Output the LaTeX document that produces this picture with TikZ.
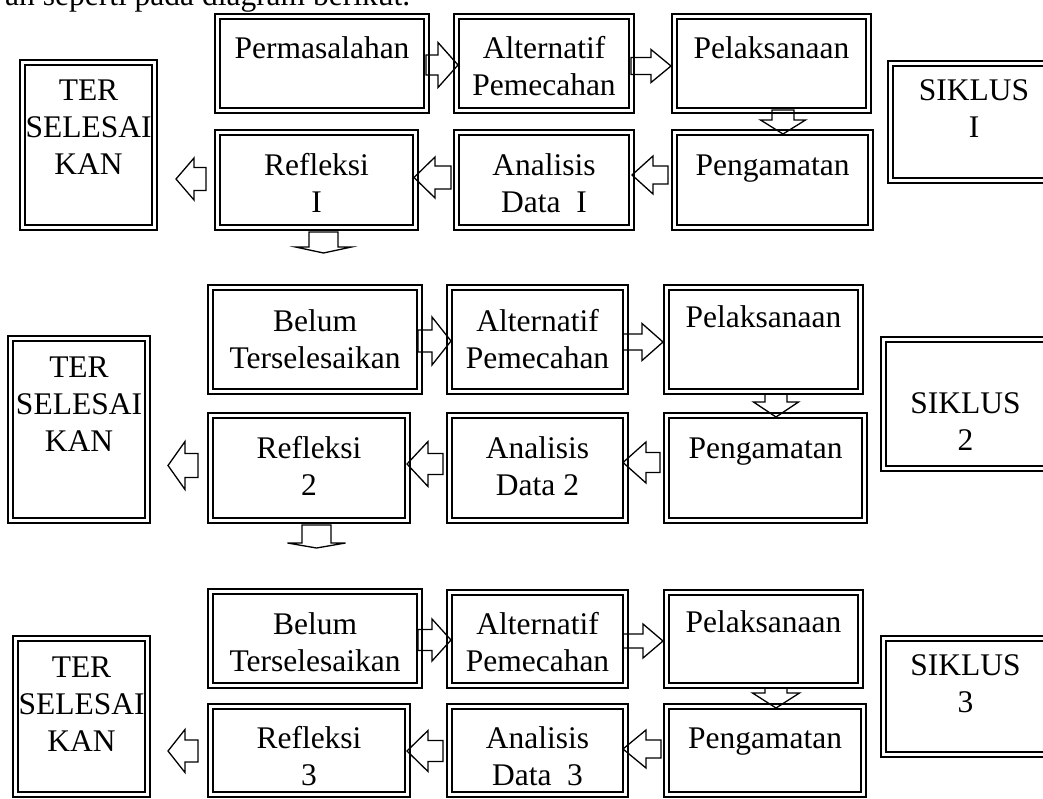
\documentclass[tikz,border=0pt]{standalone}
\usepackage{fontspec}
\setmainfont{Liberation Serif}
\usetikzlibrary{calc}

\pgfdeclarelayer{background}
\pgfsetlayers{background,main}

\tikzset{
  dframe/.style={draw, line width=1.6pt, inner sep=0pt, outer sep=0pt,
    path picture={\draw[line width=2.6pt]
      ([shift={(5pt,-5pt)}]path picture bounding box.north west) rectangle
      ([shift={(-5pt,5pt)}]path picture bounding box.south east);}},
  boxtext/.style={font=\fontsize{31.5}{37}\selectfont, align=center, inner sep=0pt, anchor=north},
  blockarrow/.style={draw, fill=white, line width=1.3pt, line join=miter},
}

% framed box: name, x1, y1, x2, y2, first baseline below top, text
\newcommand{\flowbox}[7]{%
  \node[dframe, minimum width={#4pt-#2pt}, minimum height={#5pt-#3pt}] (#1) at ({(#2+#4)/2},{(#3+#5)/2}) {};
  \node[boxtext] (#1-text) at ($(#1.north)+(0,{#6-25.9})$) {\strut #7};
}

% outlined block arrows: start, tip, shaft half width, head half width, head length
\newcommand{\blockright}[5]{%
  \draw[blockarrow] let \p1=#1, \p2=#2 in
    (\x1,{\y1+#3}) -- ({\x2-#5},{\y1+#3}) -- ({\x2-#5},{\y1+#4}) -- (\x2,\y1)
    -- ({\x2-#5},{\y1-#4}) -- ({\x2-#5},{\y1-#3}) -- (\x1,{\y1-#3}) -- cycle;}
\newcommand{\blockleft}[5]{%
  \draw[blockarrow] let \p1=#1, \p2=#2 in
    (\x1,{\y1+#3}) -- ({\x2+#5},{\y1+#3}) -- ({\x2+#5},{\y1+#4}) -- (\x2,\y1)
    -- ({\x2+#5},{\y1-#4}) -- ({\x2+#5},{\y1-#3}) -- (\x1,{\y1-#3}) -- cycle;}
\newcommand{\blockdown}[5]{%
  \draw[blockarrow] let \p1=#1, \p2=#2 in
    ({\x1-#3},\y1) -- ({\x1-#3},{\y2+#5}) -- ({\x1-#4},{\y2+#5}) -- (\x1,\y2)
    -- ({\x1+#4},{\y2+#5}) -- ({\x1+#3},{\y2+#5}) -- ({\x1+#3},\y1) -- cycle;}

\begin{document}
\begin{tikzpicture}[x=1pt,y=-1pt]
\useasboundingbox (0,0) rectangle (1043,798);
\clip (0,0) rectangle (1043,798);

% closing words of the preceding sentence
\node[anchor=base west, inner sep=0pt, font=\fontsize{31.5}{37}\selectfont] (intro) at (5,5) {an seperti pada diagram berikut.};

% ---- cycle 1
\flowbox{per1}{215}{14}{429}{113}{44}{Permasalahan}
\flowbox{alt1}{454}{14}{634}{113}{44}{Alternatif\\Pemecahan}
\flowbox{pel1}{672}{14}{871}{113}{44}{Pelaksanaan}
\flowbox{peng1}{672}{130}{873}{230}{45}{Pengamatan}
\flowbox{ana1}{454}{130}{634}{230}{45}{Analisis\\Data\ \ I}
\flowbox{ref1}{215}{130}{418}{230}{45}{Refleksi\\I}
\flowbox{ter1}{20}{60}{157}{230}{40}{TER\\SELESAI\\KAN}
\flowbox{sik1}{888}{61}{1060}{183}{39}{SIKLUS\\I}
\coordinate (ref1-out) at (323.5,253);

% ---- cycle 2
\flowbox{bel2}{208}{285}{422}{394}{46}{Belum\\Terselesaikan}
\flowbox{alt2}{447}{285}{628}{394}{46}{Alternatif\\Pemecahan}
\flowbox{pel2}{664}{285}{863}{394}{42}{Pelaksanaan}
\flowbox{peng2}{664}{413}{867}{523}{45}{Pengamatan}
\flowbox{ana2}{447}{413}{628}{523}{45}{Analisis\\Data 2}
\flowbox{ref2}{208}{413}{410}{523}{45}{Refleksi\\2}
\flowbox{ter2}{8}{336}{150}{523}{41}{TER\\SELESAI\\KAN}
\flowbox{sik2}{881}{337}{1050}{471}{76}{SIKLUS\\2}
\coordinate (ref2-out) at (316.5,548);

% ---- cycle 3
\flowbox{bel3}{208}{589}{422}{688}{45}{Belum\\Terselesaikan}
\flowbox{alt3}{447}{590}{628}{688}{44}{Alternatif\\Pemecahan}
\flowbox{pel3}{664}{590}{863}{688}{42}{Pelaksanaan}
\flowbox{peng3}{664}{704}{866}{797}{44}{Pengamatan}
\flowbox{ana3}{447}{704}{628}{797}{44}{Analisis\\Data\ \ 3}
\flowbox{ref3}{208}{704}{410}{797}{44}{Refleksi\\3}
\flowbox{ter3}{13}{636}{150}{797}{41}{TER\\SELESAI\\KAN}
\flowbox{sik3}{881}{636}{1050}{757}{39}{SIKLUS\\3}

\begin{pgfonlayer}{background}
  % cycle 1
  \blockright{([xshift=-3pt,yshift=-1.5pt]per1.east)}{([xshift=4pt]alt1.west)}{10pt}{22.5pt}{20pt}
  \blockright{([xshift=-3pt,yshift=-2.5pt]alt1.east)}{([xshift=-1pt]pel1.west)}{8.5pt}{16.5pt}{20pt}
  \blockdown{([xshift=11.5pt,yshift=3pt]pel1.south)}{([yshift=-4pt]peng1.north)}{11pt}{22.5pt}{14pt}
  \blockleft{([xshift=-4pt,yshift=5pt]peng1.west)}{([xshift=-2pt]ana1.east)}{9pt}{19pt}{21pt}
  \blockleft{([xshift=-3pt,yshift=2.5pt]ana1.west)}{([xshift=-4pt]ref1.east)}{11.5pt}{20.5pt}{21pt}
  \blockleft{([xshift=-9pt,yshift=1pt]ref1.west)}{([xshift=19pt]ter1.east)}{11.5pt}{21pt}{18pt}
  \blockdown{([xshift=7pt,yshift=-2pt]ref1.south)}{(ref1-out)}{14.5pt}{28pt}{6pt}
  % cycle 2
  \blockright{([xshift=-4pt,yshift=-1.5pt]bel2.east)}{([xshift=4pt]alt2.west)}{11pt}{24pt}{19pt}
  \blockright{([xshift=-5pt,yshift=-2.5pt]alt2.east)}{([xshift=-1pt]pel2.west)}{8pt}{18.5pt}{21pt}
  \blockdown{([xshift=12.5pt]pel2.south)}{([yshift=-4pt]peng2.north)}{11pt}{22.5pt}{15pt}
  \blockleft{([xshift=-4pt,yshift=5.5pt]peng2.west)}{([xshift=-5pt]ana2.east)}{10pt}{20.5pt}{23pt}
  \blockleft{([xshift=-4pt,yshift=4pt]ana2.west)}{([xshift=-3pt]ref2.east)}{10.5pt}{22.5pt}{21pt}
  \blockleft{([xshift=-10pt,yshift=2.5pt]ref2.west)}{([xshift=18pt]ter2.east)}{12pt}{24pt}{17pt}
  \blockdown{([xshift=7.5pt,yshift=-2pt]ref2.south)}{(ref2-out)}{14.5pt}{29pt}{5pt}
  % cycle 3
  \blockright{([xshift=-4pt,yshift=-1.5pt]bel3.east)}{([xshift=4pt]alt3.west)}{10.5pt}{21pt}{19pt}
  \blockright{([xshift=-5pt,yshift=-2pt]alt3.east)}{([xshift=-1pt]pel3.west)}{7pt}{17pt}{20pt}
  \blockdown{([xshift=12.5pt]pel3.south)}{([yshift=-4pt]peng3.north)}{11pt}{23.5pt}{15pt}
  \blockleft{([xshift=-3pt,yshift=1.5pt]peng3.west)}{([xshift=-5pt]ana3.east)}{9pt}{19pt}{23pt}
  \blockleft{([xshift=-4pt,yshift=-0.5pt]ana3.west)}{([xshift=-3pt]ref3.east)}{10.5pt}{20.5pt}{21pt}
  \blockleft{([xshift=-10pt,yshift=-0.5pt]ref3.west)}{([xshift=18pt]ter3.east)}{11pt}{21.5pt}{17pt}
\end{pgfonlayer}
\end{tikzpicture}
\end{document}
